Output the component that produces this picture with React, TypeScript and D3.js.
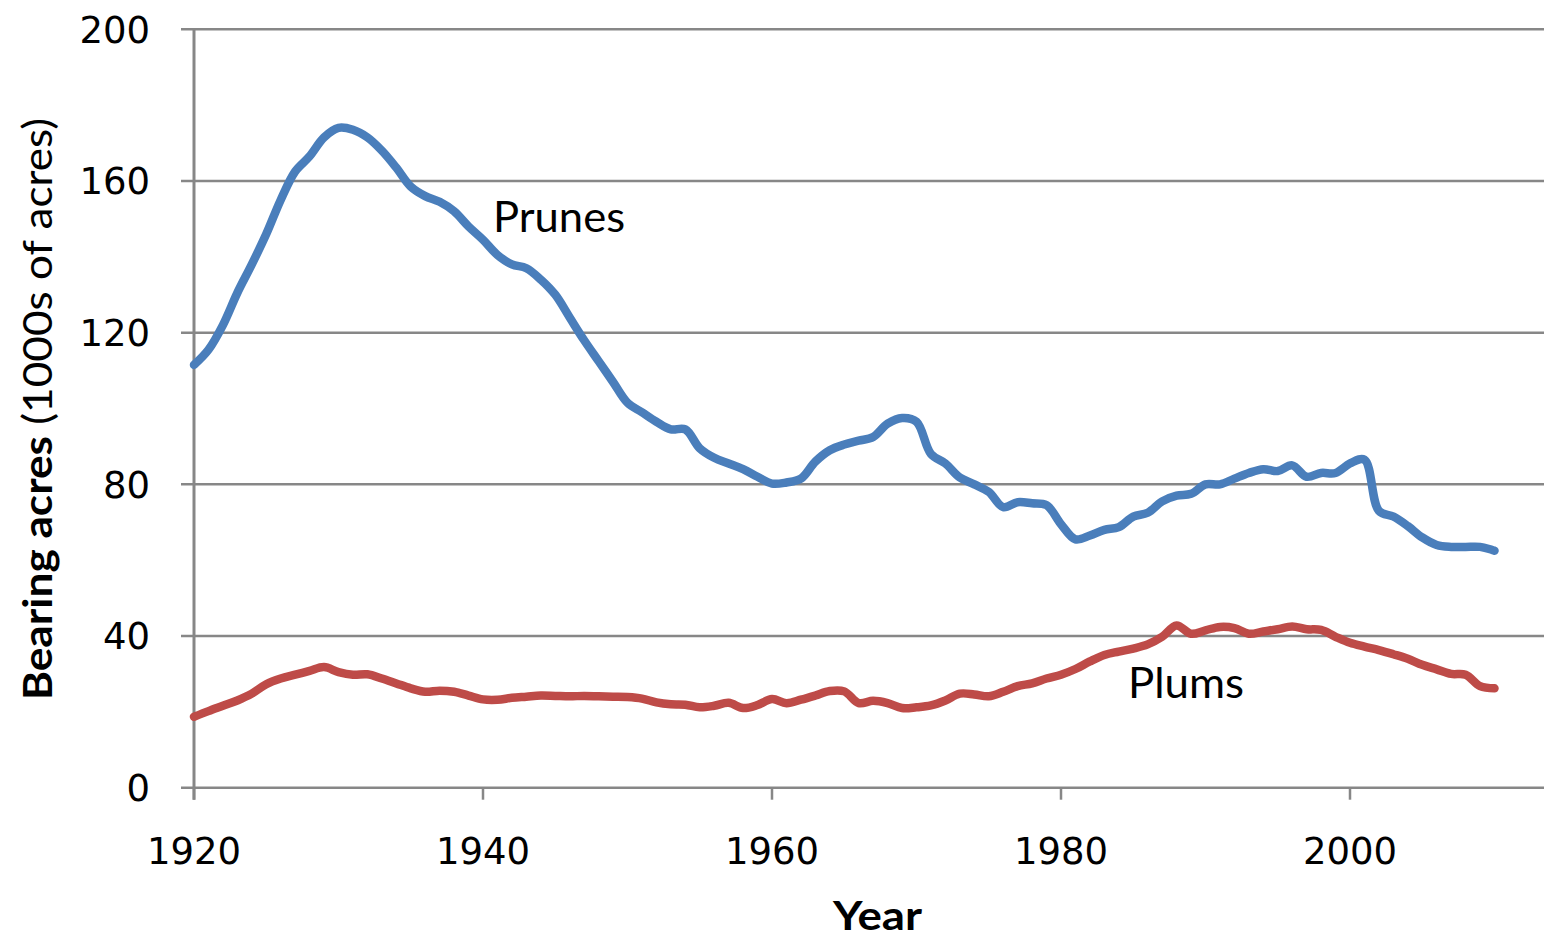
import React from "react";
import * as d3 from "d3";

const START_YEAR = 1920;

const prunes = [
  111.5, 115.5, 122, 130.5, 138, 146, 155, 162.5, 166.5, 171.5,
  174, 173.5, 171.5, 168, 163.5, 158.5, 156, 154.5, 152, 148,
  144.5, 140.5, 138, 137, 134, 130, 124, 118, 112.5, 107,
  101.5, 99, 96.5, 94.5, 94.5, 89.5, 87, 85.5, 84, 82,
  80.2, 80.5, 81.5, 86, 89, 90.5, 91.5, 92.5, 96, 97.5,
  96.5, 88, 85.5, 81.8, 80, 78, 74, 75.3, 75, 74.5,
  69.5, 65.5, 66.5, 68, 68.7, 71.5, 72.5, 75.5, 77, 77.5,
  80, 80, 81.5, 83, 84, 83.5, 85, 82, 83, 83,
  85.5, 86.5, 73, 71.5, 69, 66, 64, 63.5, 63.5, 63.5,
  62.5,
];

const plums = [
  18.7, 20.2, 21.6, 23, 24.8, 27.3, 28.8, 29.8, 30.8, 31.8,
  30.5, 29.8, 29.9, 28.8, 27.5, 26.2, 25.3, 25.6, 25.3, 24.3,
  23.3, 23.2, 23.7, 24, 24.3, 24.2, 24.1, 24.2, 24.1, 24,
  23.9, 23.5, 22.5, 22, 21.9, 21.2, 21.6, 22.4, 21, 21.8,
  23.4, 22.3, 23.2, 24.3, 25.5, 25.4, 22.3, 22.9, 22.3, 21,
  21.2, 21.7, 23, 24.8, 24.6, 24.1, 25.3, 26.8, 27.5, 28.8,
  29.8, 31.3, 33.3, 35, 35.9, 36.7, 37.8, 39.8, 42.8, 40.6,
  41.5, 42.4, 42.1, 40.6, 41.2, 41.8, 42.5, 41.8, 41.6, 39.8,
  38.2, 37.2, 36.3, 35.2, 34, 32.4, 31.2, 30, 29.8, 26.8,
  26.2,
];

const yTicks = [0, 40, 80, 120, 160, 200];
const xTicks = [1920, 1940, 1960, 1980, 2000];

const W = 1544;
const H = 940;

export default function App() {
  const x = d3.scaleLinear().domain([1920, 2000]).range([194, 1350]);
  const y = d3.scaleLinear().domain([0, 200]).range([787.7, 29.3]);

  const line = d3
    .line<number>()
    .x((_, i) => x(START_YEAR + i))
    .y((d) => y(d))
    .curve(d3.curveCatmullRom.alpha(0.5));

  const grey = "#878787";
  return (
    <svg
      width={W}
      height={H}
      style={{ position: "absolute", left: 0, top: 0, background: "#fff" }}
    >
      {yTicks.map((t) => (
        <g key={t}>
          <line x1={181} x2={W} y1={y(t)} y2={y(t)} stroke={grey} strokeWidth={2.5} />
          <text
            x={150}
            y={y(t)}
            dy="0.36em"
            textAnchor="end"
            fontFamily="DejaVu Sans"
            fontSize={37}
            fill="#000"
          >
            {t}
          </text>
        </g>
      ))}
      <line x1={x(1920)} x2={x(1920)} y1={y(200)} y2={y(0) + 12} stroke={grey} strokeWidth={3} />
      {xTicks.map((t) => (
        <g key={t}>
          <line x1={x(t)} x2={x(t)} y1={y(0)} y2={y(0) + 12} stroke={grey} strokeWidth={2.5} />
          <text
            x={x(t)}
            y={864}
            textAnchor="middle"
            fontFamily="DejaVu Sans"
            fontSize={37}
            fill="#000"
          >
            {t}
          </text>
        </g>
      ))}
      <path d={line(plums) || ""} fill="none" stroke="#BE4B48" strokeWidth={8.5} strokeLinecap="round" strokeLinejoin="round" />
      <path d={line(prunes) || ""} fill="none" stroke="#4A7EBB" strokeWidth={8.5} strokeLinecap="round" strokeLinejoin="round" />
      <text x={493} y={232} fontFamily="Lato" fontSize={42} textLength={132} lengthAdjust="spacingAndGlyphs" fill="#000">
        Prunes
      </text>
      <text x={1128} y={698} fontFamily="Lato" fontSize={42} textLength={116} lengthAdjust="spacingAndGlyphs" fill="#000">
        Plums
      </text>
      <text x={833} y={930} fontFamily="Lato" fontWeight="bold" fontSize={40} textLength={89} lengthAdjust="spacingAndGlyphs" fill="#000">
        Year
      </text>
      <text
        transform="translate(52,700) rotate(-90)"
        fontFamily="Lato"
        fontSize={40}
        fill="#000"
        textLength={582}
        lengthAdjust="spacingAndGlyphs"
      >
        <tspan fontWeight="bold">Bearing acres</tspan>
        <tspan> (1000s of acres)</tspan>
      </text>
    </svg>
  );
}
